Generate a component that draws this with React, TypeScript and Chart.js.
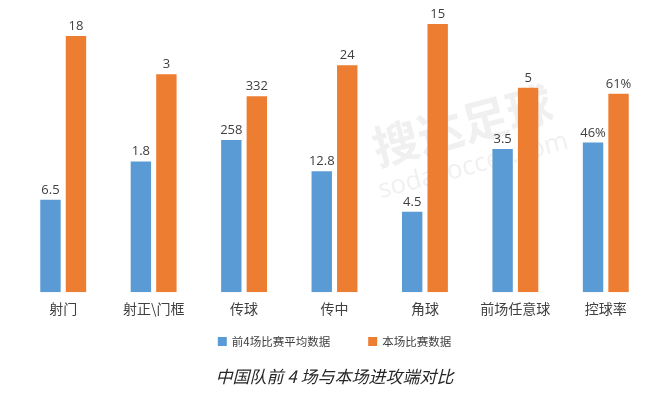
import React, { useEffect, useRef } from "react";
import { Chart, registerables } from "chart.js";

Chart.register(...registerables);

const categories = ["射门", "射正\\门框", "传球", "传中", "角球", "前场任意球", "控球率"];
const prevAvgLabel = "前4场比赛平均数据";
const thisMatchLabel = "本场比赛数据";
const prevAvg = [6.5, 1.8, 258, 12.8, 4.5, 3.5, 46];
const thisMatch = [18, 3, 332, 24, 15, 5, 61];
const valueSuffix = ["", "", "", "", "", "", "%"];
// each category is drawn on its own scale: the height (0–280 axis) the 本场 bar reaches
const thisMatchHeight = [255.5, 217.5, 195.5, 226.5, 267.5, 204, 198];
const titleText = "中国队前 4 场与本场进攻端对比";

const BLUE = "#5B9BD5";
const ORANGE = "#ED7D31";
const CJK = "'Noto Sans CJK SC', 'Noto Sans', sans-serif";
const NUM = "'Open Sans', 'Noto Sans CJK SC', sans-serif";

const prevPlot = prevAvg.map((v, i) => (v / thisMatch[i]) * thisMatchHeight[i]);
const thisPlot = thisMatchHeight.slice();
const rawValues = [prevAvg, thisMatch];

const watermarkPlugin = {
  id: "watermark",
  beforeDatasetsDraw(chart: any) {
    const ctx = chart.ctx;
    ctx.save();
    ctx.translate(465, 135);
    ctx.rotate(-0.26);
    ctx.fillStyle = "rgba(200,200,200,0.28)";
    ctx.textAlign = "center";
    ctx.textBaseline = "middle";
    ctx.font = `bold 46px ${CJK}`;
    ctx.fillText("搜达足球", 0, -10);
    ctx.font = `26px ${NUM}`;
    ctx.fillText("sodasoccer.com", 0, 32);
    ctx.restore();
  },
};

const dataLabelPlugin = {
  id: "dataLabels",
  afterDatasetsDraw(chart: any) {
    const ctx = chart.ctx;
    ctx.save();
    ctx.font = `13px ${NUM}`;
    ctx.fillStyle = "#404040";
    ctx.textAlign = "center";
    ctx.textBaseline = "alphabetic";
    chart.data.datasets.forEach((ds: any, di: number) => {
      const meta = chart.getDatasetMeta(di);
      meta.data.forEach((bar: any, i: number) => {
        const txt = `${rawValues[di][i]}${valueSuffix[i]}`;
        ctx.fillText(txt, bar.x, bar.y - 6);
      });
    });
    ctx.restore();
  },
};

const customLegendPlugin = {
  id: "customLegend",
  afterDraw(chart: any) {
    const ctx = chart.ctx;
    ctx.save();
    ctx.font = `11.5px ${CJK}`;
    ctx.textBaseline = "middle";
    ctx.textAlign = "left";
    const box = 9;
    const boxGap = 5;
    const itemGap = 38;
    const items = chart.data.datasets.map((ds: any) => ({
      text: ds.label,
      color: ds.backgroundColor,
      w: box + boxGap + ctx.measureText(ds.label).width,
    }));
    const total = items.reduce((s: number, it: any) => s + it.w, 0) + itemGap * (items.length - 1);
    let x = (chart.chartArea.left + chart.chartArea.right) / 2 - total / 2;
    const cy = 341.5;
    items.forEach((it: any) => {
      ctx.fillStyle = it.color;
      ctx.fillRect(x, cy - box / 2, box, box);
      ctx.fillStyle = "#404040";
      ctx.fillText(it.text, x + box + boxGap, cy);
      x += it.w + itemGap;
    });
    ctx.restore();
  },
};

export default function App() {
  const canvasRef = useRef<HTMLCanvasElement | null>(null);

  useEffect(() => {
    if (!canvasRef.current) return;
    const chart = new Chart(canvasRef.current, {
      type: "bar",
      data: {
        labels: categories,
        datasets: [
          {
            label: prevAvgLabel,
            data: prevPlot,
            backgroundColor: BLUE,
            categoryPercentage: 0.564,
            barPercentage: 0.8,
          },
          {
            label: thisMatchLabel,
            data: thisPlot,
            backgroundColor: ORANGE,
            categoryPercentage: 0.564,
            barPercentage: 0.8,
          },
        ],
      },
      options: {
        responsive: false,
        animation: false,
        layout: { padding: { left: 18, right: 17, top: 11.5, bottom: 0 } },
        scales: {
          x: {
            grid: { display: false, drawTicks: false },
            border: { display: false },
            ticks: {
              font: { size: 14, family: CJK },
              color: "#404040",
              padding: 8,
            },
          },
          y: {
            display: false,
            min: 0,
            max: 280,
          },
        },
        plugins: {
          legend: { display: false },
          tooltip: { enabled: false },
          title: {
            display: true,
            position: "bottom",
            text: titleText,
            color: "#262626",
            font: { size: 17, family: CJK, style: "italic", weight: "normal" },
            padding: { top: 41.5, bottom: 6 },
          },
        },
      },
      plugins: [watermarkPlugin, dataLabelPlugin, customLegendPlugin],
    });
    return () => chart.destroy();
  }, []);

  return (
    <div style={{ position: "fixed", left: 0, top: 0, width: 668, height: 393, background: "#fff" }}>
      <canvas ref={canvasRef} width={668} height={393} style={{ display: "block" }} />
    </div>
  );
}
